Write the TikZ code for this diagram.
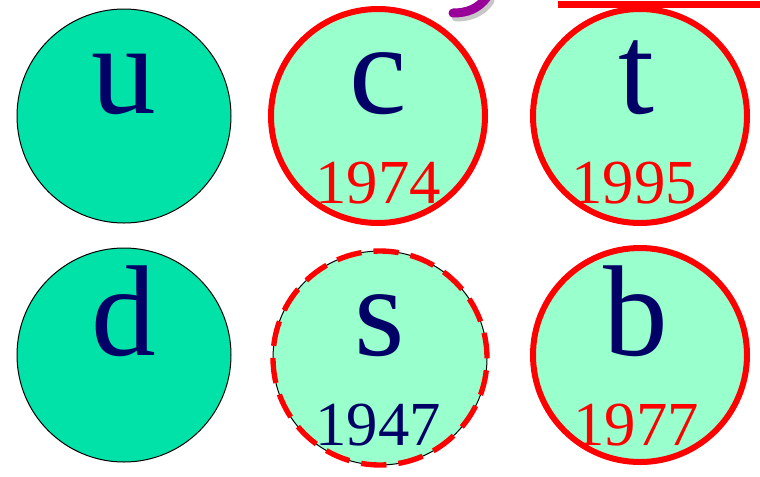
\documentclass[tikz,border=0pt]{standalone}
\usepackage{fontspec}
\setmainfont{Liberation Serif}
\usetikzlibrary{positioning}
\definecolor{qnavy}{RGB}{0,0,102}
\definecolor{qred}{RGB}{255,0,0}
\definecolor{qdark}{RGB}{0,226,168}
\definecolor{qlight}{RGB}{153,255,204}
\definecolor{qpurple}{RGB}{153,0,153}

\begin{document}
\begin{tikzpicture}[x=0.75pt,y=-0.75pt,
  quark/.style={circle,draw=black,line width=0.75pt,minimum size=160.5pt,inner sep=0pt},
  light/.style={quark,fill=qdark},
  heavy/.style={quark,fill=qlight},
  found/.style={draw=qred,line width=4.5pt},
  flav/.style={font=\fontsize{97}{97}\selectfont,text=qnavy,anchor=base,inner sep=0pt},
  year/.style={font=\fontsize{47}{47}\selectfont,text=qred,anchor=base,inner sep=0pt}]
\useasboundingbox (0,0) rectangle (760,476);

% --- cut-off bits at the top -------------------------------------------
\draw[black!22,line width=6.75pt,line cap=round] (456,17) .. controls (470,17) and (481,13) .. (490,1);
\draw[qpurple,line width=6.75pt,line cap=round] (453,13) .. controls (467,13) and (478,9) .. (487,-3);
\draw[qred,line width=5.25pt] (558,4.5) -- (762,4.5);

% --- first generation --------------------------------------------------
\node[light] (u) at (124,116) {};
\node[flav] (ulab) at (124,113) {u};
\node[light] (d) at (124,355) {};
\node[flav] (dlab) at (124,355) {d};

% --- second generation -------------------------------------------------
\node[heavy,found] (c) at (378,116) {};
\node[flav] (clab) at (378,113) {c};
\node[year] (cyear) at (378,203) {1974};
\node[heavy] (s) at (380,358) {};
\node[quark,draw=qred,line width=4pt,dash pattern=on 19pt off 9pt] (sring) at (380,358) {};
\node[flav] (slab) at (380,355) {s};
\node[year,text=qnavy] (syear) at (378,445) {1947};

% --- third generation --------------------------------------------------
\node[heavy,found] (t) at (640,116) {};
\node[flav] (tlab) at (636,113) {t};
\node[year] (tyear) at (634,203) {1995};
\node[heavy,found] (b) at (640,355) {};
\node[flav] (blab) at (636,355) {b};
\node[year] (byear) at (636,445) {1977};
\end{tikzpicture}
\end{document}
